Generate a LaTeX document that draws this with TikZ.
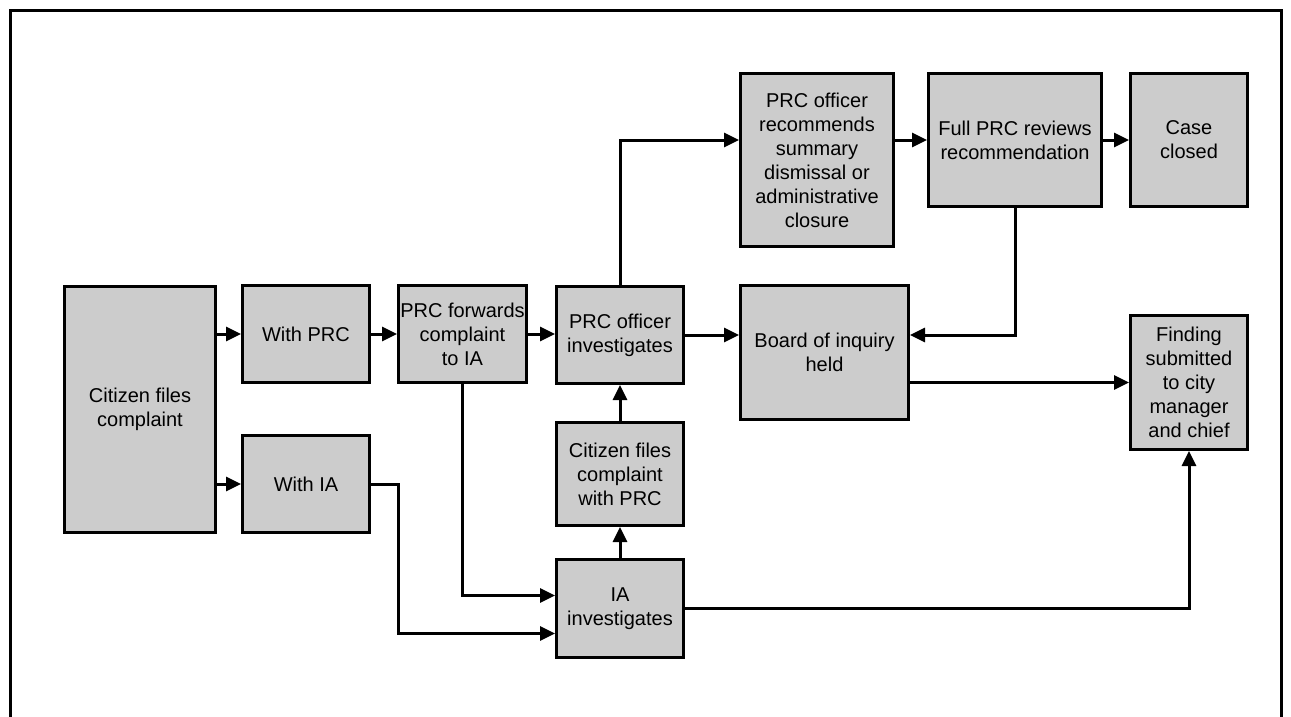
\documentclass[tikz,border=0pt]{standalone}
\usepackage{fontspec}
\setmainfont{Liberation Sans}
\usetikzlibrary{arrows.meta}
\definecolor{boxgray}{HTML}{CCCCCC}
\begin{document}
\begin{tikzpicture}[x=1pt,y=-1pt,
  box/.style={draw=black, line width=3pt, fill=boxgray, align=center,
    font=\fontsize{20}{24}\selectfont, inner sep=0pt, anchor=north west},
  conn/.style={line width=3pt, -{Triangle[length=15pt,width=14pt]}},
  frame/.style={line width=3pt}]
\useasboundingbox (0,0) rectangle (1291,717);
\draw[frame] (10,717) -- (10,11) -- (1281,11) -- (1281,717);

\node[box, minimum width=151pt, minimum height=246pt] (cfc) at (63,285) {Citizen files\\complaint};
\node[box, minimum width=127pt, minimum height=97pt] (wprc) at (241,284) {With PRC};
\node[box, minimum width=127pt, minimum height=97pt] (wia) at (241,434) {With IA};
\node[box, minimum width=128pt, minimum height=97pt] (fwd) at (397,284) {PRC forwards\\complaint\\to IA};
\node[box, minimum width=127pt, minimum height=97pt] (inv) at (555,285) {PRC officer\\investigates};
\node[box, minimum width=127pt, minimum height=103pt] (cwp) at (555,421) {Citizen files\\complaint\\with PRC};
\node[box, minimum width=127pt, minimum height=98pt] (ia) at (555,558) {IA\\investigates};
\node[box, minimum width=153pt, minimum height=173pt] (rec) at (739,72) {PRC officer\\recommends\\summary\\dismissal or\\administrative\\closure};
\node[box, minimum width=173pt, minimum height=133pt] (full) at (927,72) {Full PRC reviews\\recommendation};
\node[box, minimum width=117pt, minimum height=133pt] (closed) at (1129,72) {Case\\closed};
\node[box, minimum width=168pt, minimum height=134pt] (board) at (739,284) {Board of inquiry\\held};
\node[box, minimum width=117pt, minimum height=134pt] (find) at (1129,314) {Finding\\submitted\\to city\\manager\\and chief};

\draw[conn] (cfc.east |- wprc.west) -- (wprc.west);
\draw[conn] (cfc.east |- wia.west) -- (wia.west);
\draw[conn] (wprc.east) -- (fwd.west);
\draw[conn] (fwd.east) -- (inv.west |- fwd.east);
\draw[conn] (inv.east) -- (board.west |- inv.east);
\draw[conn] (inv.north) |- (rec.west |- full.west);
\draw[conn] (rec.east |- full.west) -- (full.west);
\draw[conn] (full.east) -- (closed.west);
\draw[conn] (full.south) |- (board.east |- inv.east);
\draw[conn] (board.east |- find.west) -- (find.west);
\draw[conn] (cwp.north) -- (inv.south);
\draw[conn] (ia.north) -- (cwp.south);
\draw[conn] (fwd.south) |- ([yshift=13pt]ia.west);
\draw[conn] (wia.east) -- ++(27,0) |- ([yshift=-25pt]ia.west);
\draw[conn] (ia.east) -| (find.south);
\end{tikzpicture}
\end{document}
